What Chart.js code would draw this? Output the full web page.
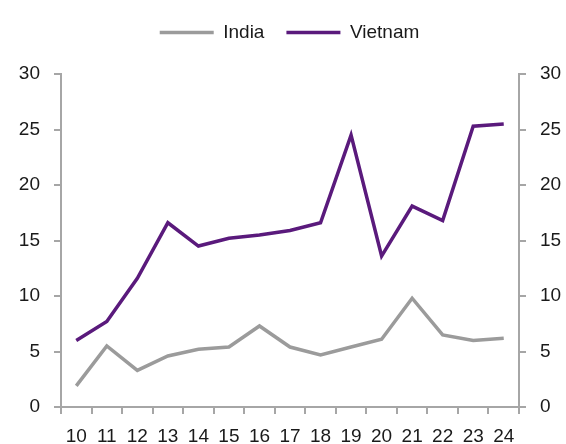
<!DOCTYPE html>
<html>
<head>
<meta charset="utf-8">
<script src="https://cdn.jsdelivr.net/npm/chart.js@4.4.0/dist/chart.umd.min.js"></script>
<style>
  html, body { margin: 0; padding: 0; background: #fff; }
  #wrap { width: 566px; height: 444px; }
</style>
</head>
<body>
<div id="wrap"><canvas id="myChart" width="566" height="444"></canvas></div>
<script>
var years = ["10", "11", "12", "13", "14", "15", "16", "17", "18", "19", "20", "21", "22", "23", "24"];
var india = [1.9, 5.5, 3.3, 4.6, 5.2, 5.4, 7.3, 5.4, 4.7, 5.4, 6.1, 9.8, 6.5, 6.0, 6.2];
var vietnam = [6.0, 7.7, 11.6, 16.6, 14.5, 15.2, 15.5, 15.9, 16.6, 24.5, 13.6, 18.1, 16.8, 25.3, 25.5];
var yTicks = [0, 5, 10, 15, 20, 25, 30];

var grey = "#9b9b9b";
var purple = "#5a1a7c";
var axisGrey = "#a6a6a6";
var tickFont = { family: 'Liberation Sans', size: 19 };

// push the plot area down below the legend
var legendGap = {
    id: 'legendGap',
    beforeInit: function (chart) {
        var fit = chart.legend.fit;
        chart.legend.fit = function () {
            fit.bind(chart.legend)();
            this.height += 22;
        };
    }
};

var ctx = document.getElementById('myChart').getContext('2d');

var chart = new Chart(ctx, {
    type: 'line',
    data: {
        labels: years,
        datasets: [{
            label: "India",
            data: india,
            borderColor: grey,
            backgroundColor: grey,
            borderWidth: 3.5,
            pointRadius: 0,
            pointStyle: 'line',
            tension: 0
        }, {
            label: "Vietnam",
            data: vietnam,
            borderColor: purple,
            backgroundColor: purple,
            borderWidth: 3.5,
            pointRadius: 0,
            pointStyle: 'line',
            tension: 0
        }]
    },
    options: {
        responsive: false,
        animation: false,
        layout: { padding: { left: 17, right: 4, top: 1, bottom: 0 } },
        plugins: {
            legend: {
                position: 'top',
                labels: {
                    usePointStyle: true,
                    pointStyleWidth: 54,
                    color: '#1a1a1a',
                    font: tickFont,
                    padding: 22
                }
            },
            tooltip: { enabled: false }
        },
        scales: {
            x: {
                offset: true,
                afterFit: function (scale) { scale.height = 37; },
                grid: {
                    offset: true,
                    drawOnChartArea: false,
                    color: axisGrey,
                    lineWidth: 2,
                    tickLength: 7
                },
                border: { color: axisGrey, width: 2 },
                ticks: {
                    color: '#1a1a1a',
                    font: tickFont,
                    maxRotation: 0,
                    autoSkip: false,
                    padding: 11
                }
            },
            y: {
                position: 'left',
                min: yTicks[0],
                max: yTicks[yTicks.length - 1],
                afterFit: function (scale) { scale.width = 44; },
                grid: {
                    drawOnChartArea: false,
                    color: axisGrey,
                    lineWidth: 2,
                    tickLength: 7
                },
                border: { color: axisGrey, width: 2 },
                ticks: {
                    stepSize: 5,
                    color: '#1a1a1a',
                    font: tickFont,
                    padding: 14
                }
            },
            y2: {
                position: 'right',
                min: yTicks[0],
                max: yTicks[yTicks.length - 1],
                afterFit: function (scale) { scale.width = 43; },
                grid: {
                    drawOnChartArea: false,
                    color: axisGrey,
                    lineWidth: 2,
                    tickLength: 7
                },
                border: { color: axisGrey, width: 2 },
                ticks: {
                    stepSize: 5,
                    color: '#1a1a1a',
                    font: tickFont,
                    padding: 14
                }
            }
        }
    },
    plugins: [legendGap]
});
</script>
</body>
</html>
